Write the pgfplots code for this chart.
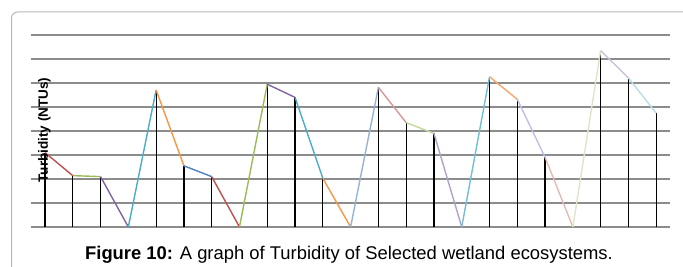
\documentclass[border=0pt]{standalone}
\usepackage{pgfplots}
\pgfplotsset{compat=1.18}
\usepackage{pgfplotstable}
\usepackage{fontspec}
\setmainfont{Liberation Sans}
\definecolor{gridc}{RGB}{140,140,140}
\definecolor{c1}{HTML}{C0504D}
\definecolor{c2}{HTML}{9BBB59}
\definecolor{c3}{HTML}{8064A2}
\definecolor{c4}{HTML}{4BACC6}
\definecolor{c5}{HTML}{F79646}
\definecolor{c6}{HTML}{4F81BD}
\definecolor{c7}{HTML}{95B3D7}
\definecolor{c8}{HTML}{D99694}
\definecolor{c9}{HTML}{C3D69B}
\definecolor{c10}{HTML}{B3A2C7}
\definecolor{c11}{HTML}{6FC0D6}
\definecolor{c12}{HTML}{F7A66A}
\definecolor{c13}{HTML}{BCC0E8}
\definecolor{c14}{HTML}{E6B9B8}
\definecolor{c15}{HTML}{DFE4C6}
\definecolor{c16}{HTML}{CCC1DA}
\definecolor{c17}{HTML}{B7DEE8}
\pgfplotstableread{
x y
0 31
1 21.4
2 21
3 0
4 57.1
5 25.5
6 21
7 0
8 59.5
9 54
10 20.3
11 0
12 58.2
13 43.5
14 39
15 0
16 62.6
17 53.2
18 29
19 0
20 73.5
21 62.1
22 47.4
}\turb
\begin{document}
\begin{tikzpicture}[x=1bp,y=1bp]
\path[use as bounding box] (0,0) rectangle (683,266);
\begin{scope}
\clip (0,0) rectangle (683,266);
\draw[draw={rgb,255:red,185;green,185;blue,185}, line width=1bp, rounded corners=6bp] (11.5,-20) -- (11.5,254) -- (720,254);
\end{scope}
\begin{axis}[
  at={(31.1bp,39bp)}, anchor=south west,
  scale only axis, width=639bp, height=192bp,
  xmin=-0.5, xmax=22.5, ymin=0, ymax=80,
  ytick={0,10,...,80}, yticklabels={}, xtick=\empty,
  ymajorgrids, grid style={draw=gridc, line width=1.1bp},
  axis line style={draw=none}, tick style={draw=none},
  clip=false,
]
\addplot[ycomb, black, no marks, line width=1.2bp] table[x=x,y=y] {\turb};
\addplot[c1, line width=1.4bp] coordinates {(0,31) (1,21.4)};
\addplot[c2, line width=1.4bp] coordinates {(1,21.4) (2,21)};
\addplot[c3, line width=1.4bp] coordinates {(2,21) (3,0)};
\addplot[c4, line width=1.4bp] coordinates {(3,0) (4,57.1)};
\addplot[c5, line width=1.4bp] coordinates {(4,57.1) (5,25.5)};
\addplot[c6, line width=1.4bp] coordinates {(5,25.5) (6,21)};
\addplot[c1, line width=1.4bp] coordinates {(6,21) (7,0)};
\addplot[c2, line width=1.4bp] coordinates {(7,0) (8,59.5)};
\addplot[c3, line width=1.4bp] coordinates {(8,59.5) (9,54)};
\addplot[c4, line width=1.4bp] coordinates {(9,54) (10,20.3)};
\addplot[c5, line width=1.4bp] coordinates {(10,20.3) (11,0)};
\addplot[c7, line width=1.4bp] coordinates {(11,0) (12,58.2)};
\addplot[c8, line width=1.4bp] coordinates {(12,58.2) (13,43.5)};
\addplot[c9, line width=1.4bp] coordinates {(13,43.5) (14,39)};
\addplot[c10, line width=1.4bp] coordinates {(14,39) (15,0)};
\addplot[c11, line width=1.4bp] coordinates {(15,0) (16,62.6)};
\addplot[c12, line width=1.4bp] coordinates {(16,62.6) (17,53.2)};
\addplot[c13, line width=1.4bp] coordinates {(17,53.2) (18,29)};
\addplot[c14, line width=1.4bp] coordinates {(18,29) (19,0)};
\addplot[c15, line width=1.4bp] coordinates {(19,0) (20,73.5)};
\addplot[c16, line width=1.4bp] coordinates {(20,73.5) (21,62.1)};
\addplot[c17, line width=1.4bp] coordinates {(21,62.1) (22,47.4)};
\end{axis}
\node[rotate=90, font=\fontsize{13.5bp}{15bp}\selectfont\bfseries, inner sep=0pt] at (44.5,136) {Turbidity (NTUs)};
\node[font=\fontsize{18.4bp}{20bp}\selectfont, inner sep=0pt, anchor=base] at (349,7) {\textbf{Figure 10:} A graph of Turbidity of Selected wetland ecosystems.};
\end{tikzpicture}
\end{document}
